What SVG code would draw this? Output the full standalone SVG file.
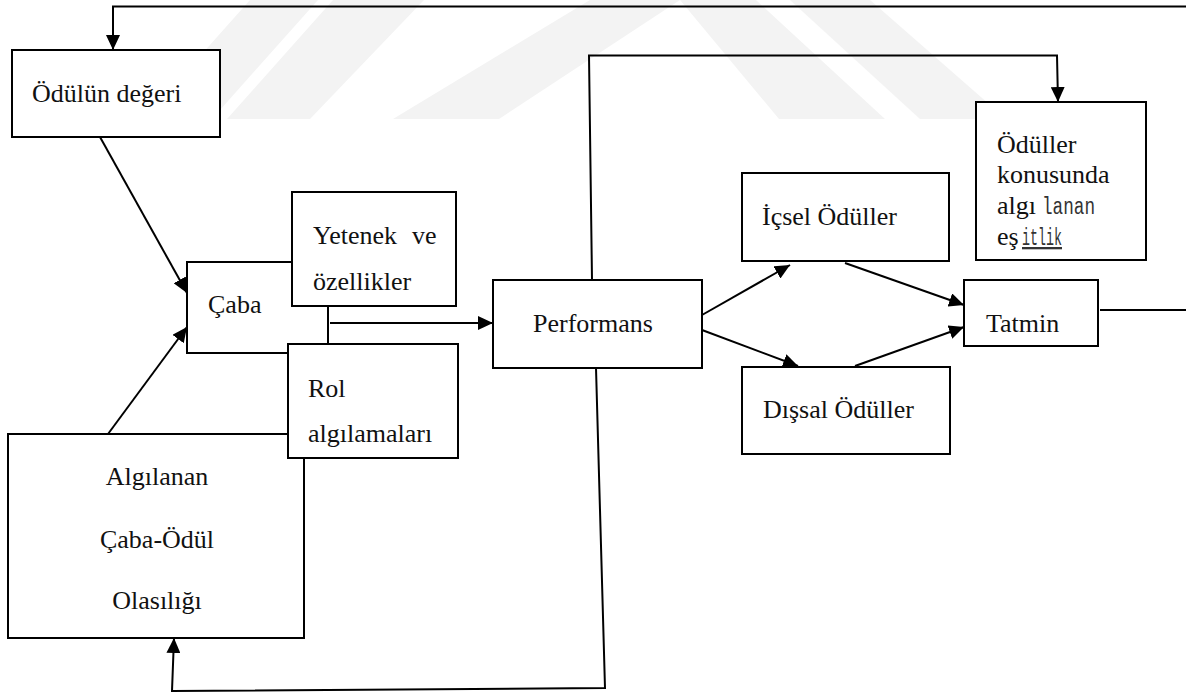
<svg xmlns="http://www.w3.org/2000/svg" width="1186" height="693" viewBox="0 0 1186 693">
<style>
.box{fill:#fff;stroke:#000;stroke-width:2}
.t{font-family:"Liberation Serif","Times New Roman",serif;font-size:26px;fill:#111}
.m{font-family:"Liberation Mono","Courier New",monospace;font-size:23px;fill:#333}
.c{fill:none;stroke:#000;stroke-width:2}
.wm{fill:#f3f3f3}
</style>
<defs>
<marker id="ah" markerUnits="userSpaceOnUse" markerWidth="16" markerHeight="14" refX="15" refY="7" orient="auto">
<path d="M0,0 L15,7 L0,14 z" fill="#000"/>
</marker>
</defs>
<rect width="1186" height="693" fill="#fff"/>
<g id="watermark">
<polygon class="wm" points="250,0 318,0 212,119 144,119"/>
<polygon class="wm" points="333,0 424,0 310,119 227,119"/>
<polygon class="wm" points="590,0 680,0 499,119 393,119"/>
<polygon class="wm" points="680,0 756,0 885,119 779,119"/>
<polygon class="wm" points="790,0 870,0 1006,119 920,119"/>
</g>
<g id="connectors">
<polyline class="c" points="1186,6.5 113,6.5 113,50" marker-end="url(#ah)"/>
<polyline class="c" points="592,280 589,55.5 1057,55.5 1058,102" marker-end="url(#ah)"/>
<line class="c" x1="100" y1="137" x2="187" y2="293" marker-end="url(#ah)"/>
<line class="c" x1="108" y1="434" x2="187" y2="327" marker-end="url(#ah)"/>
<line class="c" x1="330" y1="323" x2="493" y2="323" marker-end="url(#ah)"/>
<line class="c" x1="702" y1="315" x2="790" y2="265" marker-end="url(#ah)"/>
<line class="c" x1="702" y1="330" x2="798" y2="366" marker-end="url(#ah)"/>
<line class="c" x1="845" y1="263" x2="964" y2="305" marker-end="url(#ah)"/>
<line class="c" x1="855" y1="366" x2="964" y2="327" marker-end="url(#ah)"/>
<line class="c" x1="1100" y1="310" x2="1186" y2="310"/>
<polyline class="c" points="596,368 605,688 172,691 174,638" marker-end="url(#ah)"/>
</g>
<g id="odulun-degeri">
<rect class="box" x="12" y="50" width="208" height="87"/>
<text class="t" x="32" y="102">Ödülün değeri</text>
</g>
<g id="algilanan">
<rect class="box" x="8" y="434" width="296" height="204"/>
<text class="t" x="157" y="485" text-anchor="middle">Algılanan</text>
<text class="t" x="157" y="548" text-anchor="middle">Çaba-Ödül</text>
<text class="t" x="157" y="609" text-anchor="middle">Olasılığı</text>
</g>
<g id="caba">
<rect class="box" x="187" y="262" width="141" height="91"/>
<text class="t" x="208" y="313">Çaba</text>
</g>
<g id="yetenek">
<rect class="box" x="292" y="192" width="164" height="114"/>
<text class="t" x="313" y="244">Yetenek<tspan x="412">ve</tspan></text>
<text class="t" x="313" y="290">özellikler</text>
</g>
<g id="rol">
<rect class="box" x="288" y="344" width="170" height="114"/>
<text class="t" x="308" y="397">Rol</text>
<text class="t" x="308" y="442">algılamaları</text>
</g>
<g id="performans">
<rect class="box" x="493" y="280" width="209" height="88"/>
<text class="t" x="533" y="332">Performans</text>
</g>
<g id="icsel">
<rect class="box" x="742" y="173" width="207" height="88"/>
<text class="t" x="762" y="225">İçsel Ödüller</text>
</g>
<g id="dissal">
<rect class="box" x="742" y="367" width="208" height="87"/>
<text class="t" x="763" y="418">Dışsal Ödüller</text>
</g>
<g id="tatmin">
<rect class="box" x="964" y="280" width="134" height="66"/>
<text class="t" x="986" y="332">Tatmin</text>
</g>
<g id="esitlik">
<rect class="box" x="976" y="102" width="170" height="158"/>
<text class="t" x="997" y="153">Ödüller</text>
<text class="t" x="997" y="183">konusunda</text>
<text class="t" x="997" y="214">algı</text>
<text class="m" x="1042" y="214" textLength="53" lengthAdjust="spacingAndGlyphs">lanan</text>
<text class="t" x="997" y="245">eş</text>
<text class="m" x="1022" y="245" textLength="40" lengthAdjust="spacingAndGlyphs" text-decoration="underline">itlik</text>
</g>
</svg>
